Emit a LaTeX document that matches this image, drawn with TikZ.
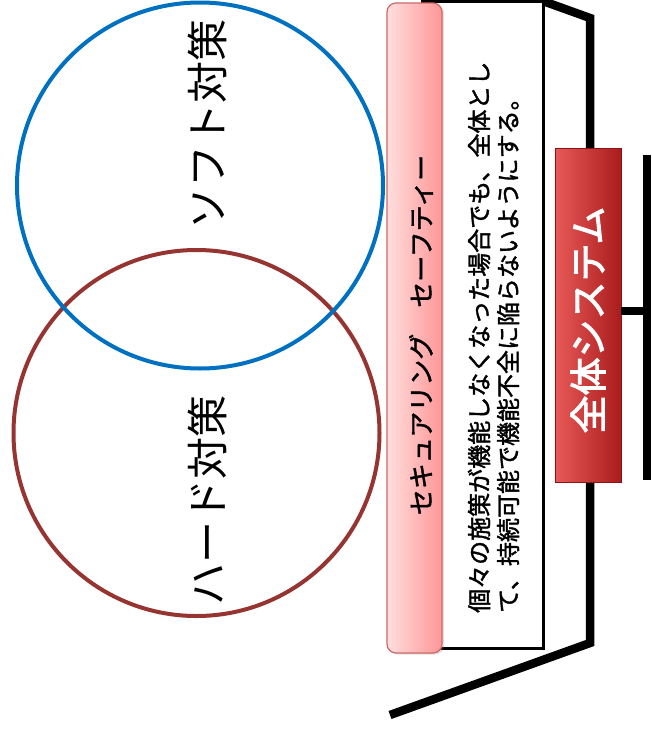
\documentclass[tikz,border=0pt]{standalone}
\usepackage{fontspec}
\newfontfamily\jp{Noto Sans CJK JP}
\newfontfamily\jpm{Noto Sans CJK JP}[FakeBold=1.6]
\newfontfamily\jpb{Noto Sans CJK JP}[FakeBold=2.6]
\usetikzlibrary{shadows}
\definecolor{softblue}{RGB}{0,112,192}
\definecolor{hardred}{RGB}{150,52,50}
\definecolor{pinkedge}{RGB}{205,105,105}
\definecolor{pinklight}{RGB}{255,222,222}
\definecolor{pinkdark}{RGB}{255,150,150}
\definecolor{sysL}{RGB}{232,90,88}
\definecolor{sysM}{RGB}{214,46,44}
\definecolor{sysR}{RGB}{170,28,28}
\definecolor{sysEdge}{RGB}{140,20,20}
\begin{document}
\begin{tikzpicture}[x=1pt,y=-1pt,
  ring/.style={circle, line width=4pt, minimum size=#1, inner sep=0pt},
  vtext/.style={rotate=90, inner sep=0pt},
  thickline/.style={line width=8.5pt, line join=miter, line cap=butt},
  boxline/.style={draw=black, line width=3pt, fill=white, inner sep=0pt},
  barbox/.style={rounded corners=9pt, draw=pinkedge, line width=1.2pt, left color=pinklight, right color=pinkdark, inner sep=0pt,
    drop shadow={opacity=0.25, shadow xshift=2pt, shadow yshift=-1.5pt}},
  sysbox/.style={draw=sysEdge, line width=0.8pt, left color=sysL, middle color=sysM, right color=sysR, inner sep=0pt}
]
\useasboundingbox (0,0) rectangle (651,731);
\clip (0,0) rectangle (651,731);

% circles
\node[ring=366, draw=hardred] (hard) at (196.5,433) {};
\node[ring=366, draw=softblue] (soft) at (200,185.5) {};
\node[vtext, font={\jp\fontsize{42}{50}\selectfont}] (softT) at (207,124) {ソフト対策};
\node[vtext, font={\jp\fontsize{42}{50}\selectfont}] (hardT) at (207,500) {ハード対策};

% large bracket
\coordinate (bTop) at (390,-54);
\coordinate (cTop) at (590,18);
\coordinate (cBot) at (590,643);
\coordinate (bBot) at (390,715);
\draw[thickline] (bTop) -- (cTop) -- (cBot) -- (bBot);

% description box
\node[boxline, minimum width=121, minimum height=647] (descbox) at (482.5,325) {};
\node[vtext, anchor=west, align=left, font={\jpm\fontsize{24}{29}\selectfont}] (desc) at (493.5,613)
  {個々の施策が機能しなくなった場合でも、全体とし\\て、持続可能で機能不全に陥らないようにする。};

% pink bar
\node[barbox, minimum width=55, minimum height=650] (bar) at (414.5,328) {};
\node[vtext, font={\jpm\fontsize{26}{30}\selectfont}] (barT) at (421,335) {セキュアリング　セーフティー};

% system box
\node[sysbox, minimum width=66, minimum height=334] (sys) at (588,315) {};
\node[vtext, text=white, font={\jpb\fontsize{38}{44}\selectfont}] (sysT) at (588,320) {全体システム};

% right bracket
\coordinate (rTop) at (647,155);
\coordinate (rBot) at (647,480);
\coordinate (rMid) at (647,311);
\draw[thickline] (rTop) -- (rBot);
\draw[thickline] (sys.east |- rMid) -- (rMid);
\end{tikzpicture}
\end{document}
